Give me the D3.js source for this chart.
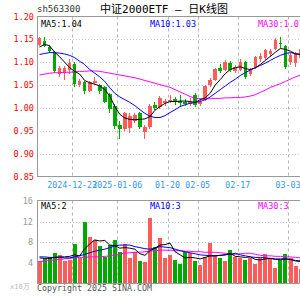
<!DOCTYPE html>
<html>
<head>
<meta charset="utf-8">
<script src="https://cdn.jsdelivr.net/npm/d3@7"></script>
<style>
	body { margin: 0; background: #fff; }
	svg { display: block; }
	text { font-family: "DejaVu Sans Mono", "Noto Sans CJK SC", monospace; }
</style>
</head>
<body>
<div id="graphic"></div>
<script>
// trading days shown on the chart
const dates = [
	'2024-12-12', '2024-12-13', '2024-12-16', '2024-12-17', '2024-12-18', '2024-12-19', '2024-12-20',
	'2024-12-23', '2024-12-24', '2024-12-25', '2024-12-26', '2024-12-27', '2024-12-30', '2024-12-31',
	'2025-01-02', '2025-01-03', '2025-01-06', '2025-01-07', '2025-01-08', '2025-01-09', '2025-01-10',
	'2025-01-13', '2025-01-14', '2025-01-15', '2025-01-16', '2025-01-17', '2025-01-20', '2025-01-21',
	'2025-01-22', '2025-01-23', '2025-01-24', '2025-01-27', '2025-02-05', '2025-02-06', '2025-02-07',
	'2025-02-10', '2025-02-11', '2025-02-12', '2025-02-13', '2025-02-14', '2025-02-17', '2025-02-18',
	'2025-02-19', '2025-02-20', '2025-02-21', '2025-02-24', '2025-02-25', '2025-02-26', '2025-02-27',
	'2025-02-28', '2025-03-03', '2025-03-04', '2025-03-05'
];

const open = [1.138, 1.147, 1.134, 1.122, 1.075, 1.076, 1.082, 1.096, 1.050, 1.057, 1.038, 1.054, 1.050, 1.045,
	1.030, 1.005, 0.962, 0.955, 0.957, 0.972, 0.990, 0.947, 0.958, 1.006, 1.002, 1.010, 1.015, 1.020,
	1.015, 1.014, 1.008, 1.028, 1.008, 1.018, 1.050, 1.062, 1.088, 1.084, 1.099, 1.080, 1.084, 1.100,
	1.074, 1.090, 1.108, 1.110, 1.118, 1.130, 1.142, 1.135, 1.100, 1.098, 1.110];
const high = [1.156, 1.155, 1.137, 1.124, 1.092, 1.092, 1.106, 1.100, 1.063, 1.060, 1.060, 1.068, 1.053, 1.048,
	1.033, 1.008, 0.972, 0.992, 0.988, 0.990, 0.992, 0.962, 1.008, 1.012, 1.026, 1.020, 1.028, 1.024,
	1.028, 1.020, 1.022, 1.032, 1.020, 1.050, 1.066, 1.088, 1.096, 1.104, 1.102, 1.094, 1.106, 1.102,
	1.088, 1.114, 1.120, 1.130, 1.130, 1.152, 1.156, 1.137, 1.120, 1.122, 1.132];
const low = [1.135, 1.133, 1.120, 1.077, 1.068, 1.062, 1.075, 1.045, 1.045, 1.030, 1.035, 1.050, 1.030, 1.010,
	0.990, 0.955, 0.931, 0.950, 0.945, 0.968, 0.955, 0.931, 0.955, 0.995, 0.998, 1.004, 1.010, 1.006,
	1.002, 1.004, 1.004, 1.002, 1.004, 1.015, 1.046, 1.058, 1.076, 1.080, 1.078, 1.076, 1.080, 1.064,
	1.070, 1.086, 1.100, 1.105, 1.112, 1.126, 1.132, 1.086, 1.094, 1.090, 1.104];
const close = [1.152, 1.136, 1.124, 1.080, 1.088, 1.088, 1.098, 1.052, 1.060, 1.036, 1.056, 1.060, 1.036, 1.014,
	0.998, 0.960, 0.955, 0.988, 0.982, 0.985, 0.958, 0.958, 1.005, 1.000, 1.022, 1.016, 1.017, 1.012,
	1.010, 1.008, 1.014, 1.006, 1.014, 1.048, 1.062, 1.086, 1.080, 1.100, 1.084, 1.090, 1.100, 1.068,
	1.082, 1.112, 1.114, 1.126, 1.124, 1.148, 1.140, 1.090, 1.115, 1.118, 1.128];

// moving averages
const ma5 = [1.133, 1.139, 1.136, 1.122, 1.112, 1.100, 1.088, 1.080, 1.074, 1.060, 1.055, 1.052, 1.048, 1.040,
	1.026, 1.003, 0.986, 0.978, 0.975, 0.974, 0.975, 0.976, 0.981, 0.995, 1.003, 1.010, 1.014, 1.014,
	1.015, 1.015, 1.014, 1.012, 1.018, 1.022, 1.032, 1.050, 1.062, 1.075, 1.084, 1.088, 1.090, 1.086,
	1.084, 1.088, 1.095, 1.104, 1.113, 1.122, 1.130, 1.128, 1.124, 1.118, 1.117];
const ma10 = [1.117, 1.119, 1.121, 1.121, 1.120, 1.118, 1.115, 1.110, 1.102, 1.095, 1.084, 1.076, 1.068, 1.058,
	1.044, 1.032, 1.024, 1.018, 1.012, 1.005, 0.996, 0.988, 0.982, 0.979, 0.979, 0.983, 0.990, 0.996,
	1.003, 1.007, 1.010, 1.012, 1.014, 1.018, 1.024, 1.032, 1.040, 1.048, 1.056, 1.063, 1.071, 1.077,
	1.083, 1.088, 1.093, 1.098, 1.104, 1.110, 1.115, 1.119, 1.121, 1.119, 1.117];
const ma30 = [1.072, 1.074, 1.076, 1.077, 1.077, 1.078, 1.078, 1.079, 1.080, 1.080, 1.081, 1.081, 1.080, 1.078,
	1.076, 1.074, 1.072, 1.070, 1.068, 1.066, 1.063, 1.060, 1.057, 1.054, 1.051, 1.048, 1.045, 1.040,
	1.035, 1.030, 1.025, 1.021, 1.020, 1.020, 1.020, 1.021, 1.021, 1.022, 1.022, 1.023, 1.023, 1.024,
	1.026, 1.029, 1.034, 1.039, 1.045, 1.049, 1.053, 1.058, 1.063, 1.068, 1.072];

// volume (x10万) and its moving averages
const volume = [4.35, 4.8, 5.0, 5.8, 5.5, 4.2, 4.5, 7.7, 4.8, 12.0, 9.0, 8.3, 7.3, 5.0, 7.4, 8.3, 6.0, 7.7,
	4.8, 6.0, 4.2, 4.1, 12.6, 7.1, 8.8, 4.8, 5.5, 4.5, 3.8, 6.0, 5.8, 4.3, 3.6, 5.1, 7.9, 5.5, 4.9, 4.3,
	6.4, 5.1, 4.8, 4.5, 4.8, 3.8, 4.8, 5.6, 4.9, 3.0, 4.5, 5.6, 4.8, 3.4, 2.7];
const volMa5 = [4.9, 4.8, 4.8, 5.0, 5.1, 5.1, 5.2, 5.5, 5.3, 6.7, 7.6, 8.4, 8.2, 8.3, 7.4, 7.3, 6.8, 6.9,
	6.8, 6.6, 5.7, 5.4, 6.3, 6.8, 7.4, 7.5, 7.8, 6.1, 5.5, 4.9, 5.0, 4.9, 4.7, 5.0, 5.3, 5.3, 5.4, 5.5,
	5.8, 5.2, 5.1, 5.0, 5.1, 4.6, 4.5, 4.7, 4.8, 4.6, 4.6, 4.7, 4.6, 4.3, 4.2];
const volMa10 = [5.1, 5.1, 5.0, 5.0, 5.0, 4.9, 4.9, 5.1, 5.3, 5.6, 5.9, 6.2, 6.4, 6.6, 6.9, 7.2, 7.4, 7.4,
	7.4, 7.1, 6.9, 6.7, 6.6, 6.8, 7.1, 7.0, 6.9, 6.6, 6.3, 6.1, 5.9, 5.7, 5.5, 5.4, 5.3, 5.3, 5.4, 5.5,
	5.6, 5.8, 5.5, 5.3, 5.1, 5.0, 5.0, 4.9, 4.8, 4.7, 4.7, 4.7, 4.6, 4.4, 4.3];
const volMa30 = [4.2, 4.3, 4.4, 4.5, 4.6, 4.7, 4.8, 4.9, 5.0, 5.0, 5.1, 5.1, 5.1, 5.2, 5.3, 5.5, 5.7, 5.8,
	5.9, 6.0, 6.0, 6.1, 6.2, 6.3, 6.4, 6.4, 6.4, 6.3, 6.3, 6.2, 6.2, 6.1, 6.1, 6.0, 6.0, 6.0, 5.9, 5.8,
	5.7, 5.6, 5.7, 5.8, 5.8, 5.6, 5.4, 5.3, 5.3, 5.2, 5.2, 5.1, 5.1, 5.0, 4.9];

const priceTicks = [1.20, 1.15, 1.10, 1.05, 1.00, 0.95, 0.90, 0.85];
const volTicks = [16, 12, 8, 4];
const dateTicks = ['2024-12-23', '2025-01-06', '2025-01-20', '2025-02-05', '2025-02-17', '2025-03-03'];
const dateTickLabels = ['2024-12-23', '2025-01-06', '01-20', '02-05', '02-17', '03-03'];

const maLabels = [['MA5:1.04', '#000'], ['MA10:1.03', '#0000ff'], ['MA30:1.07', '#ff00ff']];
const volMaLabels = [['MA5:2', '#000'], ['MA10:3', '#0000ff'], ['MA30:3', '#ff00ff']];

const RED = '#ff5b5b';
const GREEN = '#00a800';

const width = 300, height = 300;
const left = 37;
const step = 5.02;

const svg = d3.select('#graphic').append('svg')
	.attr('width', width)
	.attr('height', height);

const x = d3.scaleBand()
	.domain(dates)
	.range([left, left + dates.length * step])
	.padding(0);
const cx = (d) => x(d) + x.bandwidth() / 2;

const y = d3.scaleLinear().domain([0.85, 1.20]).range([176.5, 16.5]);
const yVol = d3.scaleLinear().domain([0, 16]).range([283, 201]);

const rows = dates.map((d, i) => ({
	date: d, o: open[i], h: high[i], l: low[i], c: close[i], v: volume[i],
	up: close[i] >= open[i]
}));

// ---- titles
svg.append('text')
	.attr('x', 37).attr('y', 12)
	.attr('font-size', '9px')
	.attr('fill', '#333')
	.text('sh563300');

svg.append('text')
	.attr('x', 164).attr('y', 12.5)
	.attr('text-anchor', 'middle')
	.attr('font-size', '11px')
	.attr('fill', '#000')
	.text('中证2000ETF — 日K线图');

// ---- grids
function drawGrid(g, yScale, ticks, top, bottom) {
	g.append('g')
		.selectAll('line')
		.data(ticks)
		.join('line')
		.attr('x1', left).attr('x2', width)
		.attr('y1', (d) => Math.round(yScale(d)) + 0.5)
		.attr('y2', (d) => Math.round(yScale(d)) + 0.5)
		.attr('stroke', '#c8c8c8')
		.attr('stroke-dasharray', '1,2');

	g.append('g')
		.selectAll('line')
		.data(dateTicks)
		.join('line')
		.attr('x1', (d) => Math.round(x(d)) + 0.5)
		.attr('x2', (d) => Math.round(x(d)) + 0.5)
		.attr('y1', top).attr('y2', bottom)
		.attr('stroke', '#b4b4b4')
		.attr('stroke-dasharray', '3,3');
}

const main = svg.append('g');
drawGrid(main, y, priceTicks.slice(1, -1), 16.5, 176.5);

const vol = svg.append('g');
drawGrid(vol, yVol, volTicks.slice(1), 200.5, 283);

// ---- candles
const candles = main.append('g').attr('shape-rendering', 'crispEdges');

candles.selectAll('line.wick')
	.data(rows)
	.join('line')
	.attr('class', 'wick')
	.attr('x1', (d) => cx(d.date)).attr('x2', (d) => cx(d.date))
	.attr('y1', (d) => y(d.h)).attr('y2', (d) => y(d.l))
	.attr('stroke', (d) => d.up ? RED : GREEN)
	.attr('stroke-width', 1);

candles.selectAll('rect.body')
	.data(rows)
	.join('rect')
	.attr('class', 'body')
	.attr('x', (d) => cx(d.date) - 1.8)
	.attr('width', 3.6)
	.attr('y', (d) => y(Math.max(d.o, d.c)))
	.attr('height', (d) => Math.max(1, Math.abs(y(d.o) - y(d.c))))
	.attr('fill', (d) => d.up ? RED : GREEN);

// ---- moving average lines
function drawLine(g, values, yScale, colour) {
	const line = d3.line()
		.x((d, i) => cx(dates[i]))
		.y((d) => yScale(d));
	g.append('path')
		.datum(values)
		.attr('fill', 'none')
		.attr('stroke', colour)
		.attr('stroke-width', 1)
		.attr('d', line);
}

drawLine(main, ma30, y, '#ff00ff');
drawLine(main, ma10, y, '#0000ff');
drawLine(main, ma5, y, '#000');

// ---- volume bars
vol.append('g')
	.attr('shape-rendering', 'crispEdges')
	.selectAll('rect')
	.data(rows)
	.join('rect')
	.attr('x', (d) => cx(d.date) - 2)
	.attr('width', 4)
	.attr('y', (d) => yVol(d.v))
	.attr('height', (d) => yVol(0) - yVol(d.v))
	.attr('fill', (d) => d.up ? RED : GREEN);

drawLine(vol, volMa30, yVol, '#ff00ff');
drawLine(vol, volMa10, yVol, '#0000ff');
drawLine(vol, volMa5, yVol, '#000');

// ---- frames
function drawFrame(top, bottom) {
	svg.append('path')
		.attr('d', `M${width},${top}H${left + 0.5}V${bottom}H${width}`)
		.attr('fill', 'none')
		.attr('stroke', '#999')
		.attr('shape-rendering', 'crispEdges');
}
drawFrame(16.5, 176.5);
drawFrame(200.5, 283.5);

// ---- axis labels
svg.append('g')
	.selectAll('text')
	.data(priceTicks)
	.join('text')
	.attr('x', 34)
	.attr('y', (d) => y(d) + 3)
	.attr('text-anchor', 'end')
	.attr('font-size', '8.5px')
	.attr('fill', '#ff0000')
	.text((d) => d3.format('.2f')(d));

svg.append('g')
	.selectAll('text')
	.data(volTicks)
	.join('text')
	.attr('x', 33)
	.attr('y', (d) => yVol(d) + 3)
	.attr('text-anchor', 'end')
	.attr('font-size', '8.5px')
	.attr('fill', '#999')
	.text((d) => d);

svg.append('g')
	.selectAll('text')
	.data(dateTicks)
	.join('text')
	.attr('x', (d) => x(d))
	.attr('y', 188)
	.attr('text-anchor', 'middle')
	.attr('font-size', '8.3px')
	.attr('fill', '#3399e6')
	.text((d, i) => dateTickLabels[i]);

// ---- MA legends
const maX = [41, 150, 258];
svg.append('g')
	.selectAll('text')
	.data(maLabels)
	.join('text')
	.attr('x', (d, i) => maX[i])
	.attr('y', 26.5)
	.attr('font-size', '8.5px')
	.attr('fill', (d) => d[1])
	.text((d) => d[0]);

svg.append('g')
	.selectAll('text')
	.data(volMaLabels)
	.join('text')
	.attr('x', (d, i) => maX[i])
	.attr('y', 208.5)
	.attr('font-size', '8.5px')
	.attr('fill', (d) => d[1])
	.text((d) => d[0]);

// ---- footer
svg.append('text')
	.attr('x', 10).attr('y', 289)
	.attr('font-size', '7px')
	.attr('fill', '#bbb')
	.text('x10万');

svg.append('text')
	.attr('x', 37).attr('y', 291)
	.attr('font-size', '8.3px')
	.attr('fill', '#555')
	.text('Copyright 2025 SINA.COM');
</script>
</body>
</html>
